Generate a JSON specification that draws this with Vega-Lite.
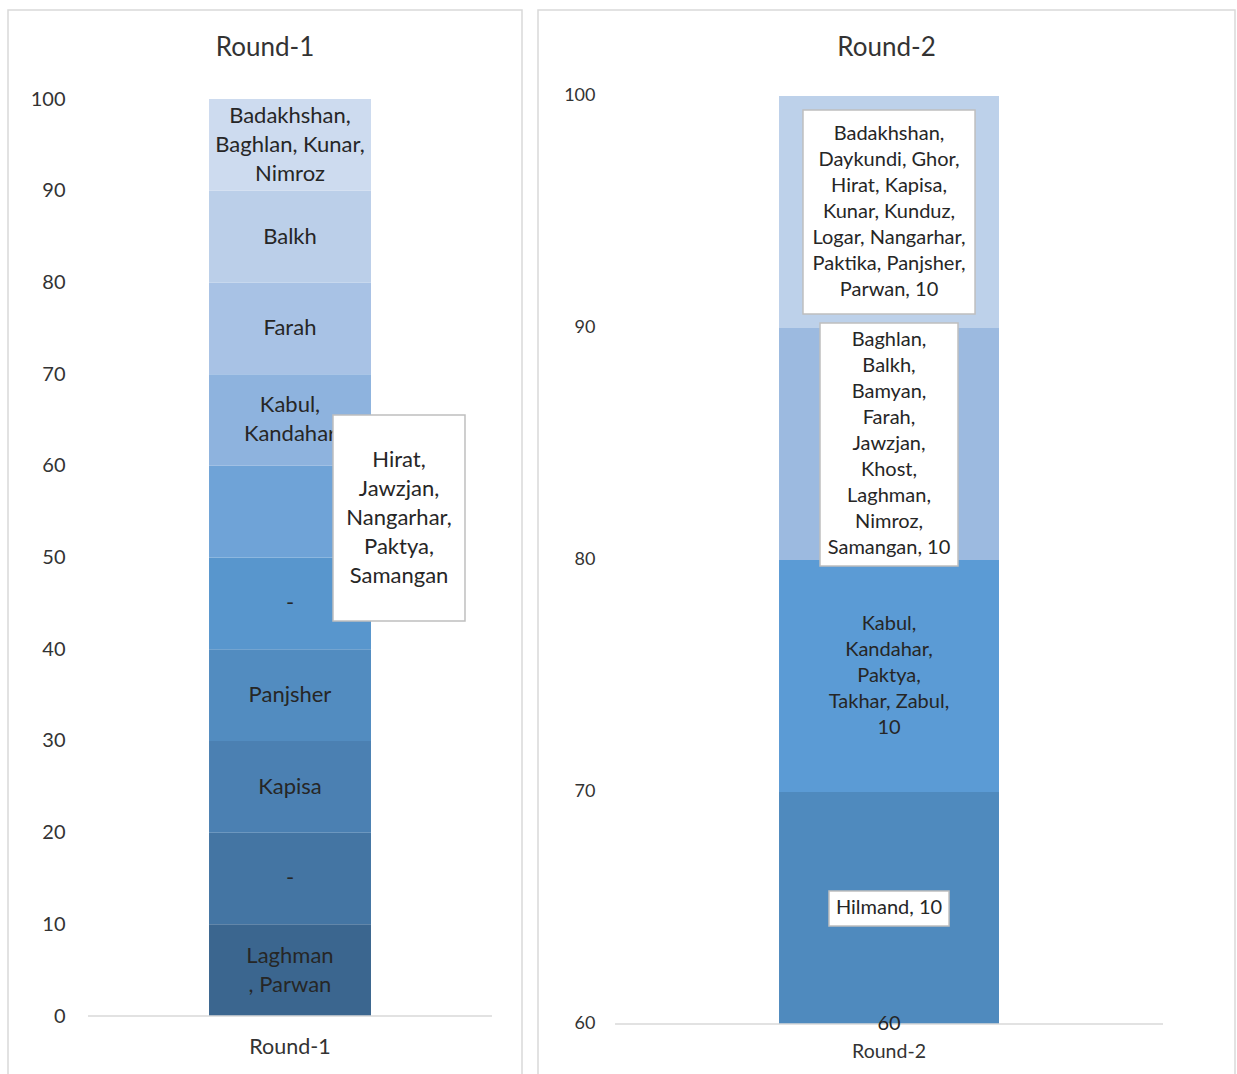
{
  "$schema": "https://vega.github.io/schema/vega-lite/v6.json",
  "padding": {"left": 7, "top": 9, "right": 0, "bottom": 0},
  "background": "white",
  "spacing": 14,
  "config": {
    "view": {"stroke": "#d9d9d9", "strokeWidth": 1.5},
    "font": "Lato",
    "title": {"font": "Lato", "fontSize": 26, "fontWeight": "normal", "color": "#333333", "anchor": "middle", "frame": "group", "baseline": "alphabetic"},
    "text": {"font": "Lato", "fill": "#262626", "align": "center", "baseline": "middle", "lineBreak": "\n"}
  },
  "datasets": {
    "round1": [
      {"order": 1, "label": "Laghman\n, Parwan", "value": 10},
      {"order": 2, "label": "-", "value": 10},
      {"order": 3, "label": "Kapisa", "value": 10},
      {"order": 4, "label": "Panjsher", "value": 10},
      {"order": 5, "label": "-", "value": 10},
      {"order": 6, "label": "Hirat,\nJawzjan,\nNangarhar,\nPaktya,\nSamangan", "value": 10},
      {"order": 7, "label": "Kabul,\nKandahar", "value": 10},
      {"order": 8, "label": "Farah", "value": 10},
      {"order": 9, "label": "Balkh", "value": 10},
      {"order": 10, "label": "Badakhshan,\nBaghlan, Kunar,\nNimroz", "value": 10}
    ],
    "round2": [
      {"order": 1, "label": "60", "value": 60},
      {"order": 2, "label": "Hilmand, 10", "value": 10},
      {"order": 3, "label": "Kabul,\nKandahar,\nPaktya,\nTakhar, Zabul,\n10", "value": 10},
      {"order": 4, "label": "Baghlan,\nBalkh,\nBamyan,\nFarah,\nJawzjan,\nKhost,\nLaghman,\nNimroz,\nSamangan, 10", "value": 10},
      {"order": 5, "label": "Badakhshan,\nDaykundi, Ghor,\nHirat, Kapisa,\nKunar, Kunduz,\nLogar, Nangarhar,\nPaktika, Panjsher,\nParwan, 10", "value": 10}
    ]
  },
  "resolve": {"scale": {"x": "independent", "y": "independent", "color": "independent"}},
  "hconcat": [
    {
      "width": 514,
      "height": 1065,
      "title": {"text": "Round-1", "offset": -51},
      "data": {"name": "round1"},
      "transform": [
        {"stack": "value", "groupby": [], "sort": [{"field": "order", "order": "ascending"}], "as": ["y0", "y1"]},
        {"calculate": "(datum.y0 + datum.y1) / 2", "as": "mid"},
        {"calculate": "datum.mid + (length(split(datum.label, '\\n')) - 1) * 14.5 / 9.17", "as": "ly"}
      ],
      "layer": [
        {
          "mark": {"type": "bar"},
          "encoding": {
            "x": {"datum": 0.3911, "type": "quantitative", "scale": {"domain": [0, 1], "nice": false, "zero": false}, "axis": null},
            "x2": {"datum": 0.7062},
            "y": {
              "field": "y0", "type": "quantitative",
              "scale": {"domain": [-6.43, 109.71], "nice": false, "zero": false},
              "axis": {"title": null, "values": [0, 10, 20, 30, 40, 50, 60, 70, 80, 90, 100], "offset": -57, "domain": false, "ticks": false, "grid": false, "labelPadding": 0, "labelFont": "Lato", "labelFontSize": 20, "labelColor": "#333333"}
            },
            "y2": {"field": "y1"},
            "color": {
              "field": "order", "type": "ordinal", "legend": null,
              "scale": {"domain": [1, 2, 3, 4, 5, 6, 7, 8, 9, 10], "range": ["#3b668f", "#4475a3", "#4b80b2", "#528cc0", "#5896cd", "#6fa3d7", "#8eb3de", "#a8c2e5", "#bbcfe9", "#cddbef"]}
            }
          }
        },
        {
          "data": {"values": [{}]},
          "mark": {"type": "rule", "color": "#d9d9d9", "strokeWidth": 1.5},
          "encoding": {"x": {"datum": 0.1556}, "x2": {"datum": 0.9416}, "y": {"datum": 0}}
        },
        {
          "transform": [{"filter": "datum.order != 6"}],
          "mark": {"type": "text", "fontSize": 22, "lineHeight": 29},
          "encoding": {"x": {"datum": 0.5486}, "y": {"field": "ly", "type": "quantitative"}, "text": {"field": "label"}}
        },
        {
          "data": {"values": [{}]},
          "mark": {"type": "rect", "fill": "white", "stroke": "#bfbfbf", "strokeWidth": 1.5},
          "encoding": {"x": {"datum": 0.6323}, "x2": {"datum": 0.8891}, "y": {"datum": 65.54}, "y2": {"datum": 43.08}}
        },
        {
          "transform": [{"filter": "datum.order == 6"}],
          "mark": {"type": "text", "fontSize": 22, "lineHeight": 29, "dy": 6},
          "encoding": {"x": {"datum": 0.7607}, "y": {"field": "ly", "type": "quantitative"}, "text": {"field": "label"}}
        },
        {
          "data": {"values": [{"round": "Round-1"}]},
          "mark": {"type": "text", "fontSize": 21.5, "dy": 32, "fill": "#333333"},
          "encoding": {"x": {"datum": 0.5486}, "y": {"datum": 0}, "text": {"field": "round"}}
        }
      ]
    },
    {
      "width": 697,
      "height": 1065,
      "title": {"text": "Round-2", "offset": -51},
      "data": {"name": "round2"},
      "transform": [
        {"stack": "value", "groupby": [], "sort": [{"field": "order", "order": "ascending"}], "as": ["y0", "y1"]},
        {"calculate": "max(datum.y0, 60)", "as": "yb"},
        {"calculate": "max((datum.y0 + datum.y1) / 2, 60)", "as": "mid"},
        {"calculate": "datum.mid + (length(split(datum.label, '\\n')) - 1) * 13 / 23.2", "as": "ly"}
      ],
      "layer": [
        {
          "mark": {"type": "bar"},
          "encoding": {
            "x": {"datum": 0.3458, "type": "quantitative", "scale": {"domain": [0, 1], "nice": false, "zero": false}, "axis": null},
            "x2": {"datum": 0.6614},
            "y": {
              "field": "yb", "type": "quantitative",
              "scale": {"domain": [57.80, 103.707], "nice": false, "zero": false},
              "axis": {"title": null, "values": [60, 70, 80, 90, 100], "offset": -57, "domain": false, "ticks": false, "grid": false, "labelPadding": 0, "labelFont": "Lato", "labelFontSize": 18, "labelColor": "#333333"}
            },
            "y2": {"field": "y1"},
            "color": {
              "field": "order", "type": "ordinal", "legend": null,
              "scale": {"domain": [1, 2, 3, 4, 5], "range": ["#41719c", "#4f8abe", "#5b9bd5", "#9cbae0", "#bdd1ea"]}
            }
          }
        },
        {
          "data": {"values": [{}]},
          "mark": {"type": "rule", "color": "#d9d9d9", "strokeWidth": 1.5},
          "encoding": {"x": {"datum": 0.1105}, "x2": {"datum": 0.8967}, "y": {"datum": 60}}
        },
        {
          "data": {"values": [{}]},
          "mark": {"type": "rect", "fill": "white", "stroke": "#bfbfbf", "strokeWidth": 1.5},
          "encoding": {"x": {"datum": 0.3802}, "x2": {"datum": 0.6270}, "y": {"datum": 99.397}, "y2": {"datum": 90.603}}
        },
        {
          "data": {"values": [{}]},
          "mark": {"type": "rect", "fill": "white", "stroke": "#bfbfbf", "strokeWidth": 1.5},
          "encoding": {"x": {"datum": 0.4046}, "x2": {"datum": 0.6026}, "y": {"datum": 90.216}, "y2": {"datum": 79.741}}
        },
        {
          "data": {"values": [{}]},
          "mark": {"type": "rect", "fill": "white", "stroke": "#bfbfbf", "strokeWidth": 1.5},
          "encoding": {"x": {"datum": 0.4175}, "x2": {"datum": 0.5897}, "y": {"datum": 65.733}, "y2": {"datum": 64.224}}
        },
        {
          "mark": {"type": "text", "fontSize": 20, "lineHeight": 26},
          "encoding": {"x": {"datum": 0.5036}, "y": {"field": "ly", "type": "quantitative"}, "text": {"field": "label"}}
        },
        {
          "data": {"values": [{"round": "Round-2"}]},
          "mark": {"type": "text", "fontSize": 19.5, "dy": 28, "fill": "#333333"},
          "encoding": {"x": {"datum": 0.5036}, "y": {"datum": 60}, "text": {"field": "round"}}
        }
      ]
    }
  ]
}
